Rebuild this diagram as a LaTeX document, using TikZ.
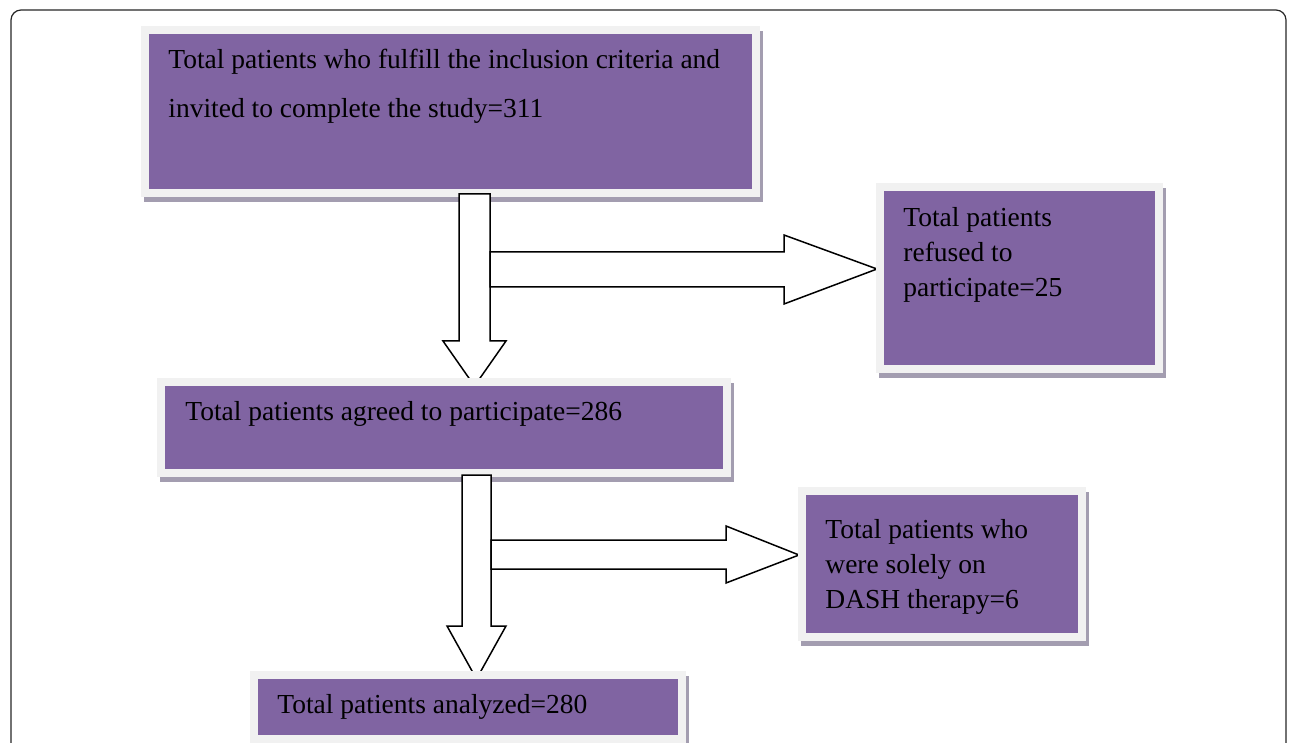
\documentclass[tikz,border=0pt]{standalone}
\usepackage{fontspec}
\setmainfont{Liberation Serif}
\usetikzlibrary{calc}
\pgfdeclarelayer{bg}
\pgfdeclarelayer{fg}
\pgfsetlayers{bg,main,fg}
\definecolor{boxpurple}{RGB}{128,100,162}
\definecolor{boxframe}{RGB}{241,241,241}
\definecolor{boxshadow}{RGB}{163,157,176}
\tikzset{
  box/.style={rectangle, fill=boxpurple, draw=boxframe, line width=4pt,
    preaction={fill=boxshadow, draw=boxshadow, line width=4pt,
      transform canvas={shift={(1.5pt,-2.5pt)}}}},
  boxtext/.style={anchor=north west, inner sep=0pt, align=left,
    font=\fontsize{13.75pt}{17.5pt}\selectfont},
  blockarrow/.style={draw=black, fill=white, line width=0.75pt, line join=miter}
}
\begin{document}
\begin{tikzpicture}[x=0.5pt, y=-0.5pt]
\useasboundingbox (0,0) rectangle (1296,743);
\draw[black!85, line width=0.6pt, rounded corners=5pt] (11,10) rectangle (1286,800);
% boxes of the middle row
\node[box, minimum width=283pt, minimum height=45.5pt] (agreed) at (444,427.5) {};
\node[boxtext] (agreed text) at ($(agreed.north west)+(28,23)$) {Total patients agreed to participate=286};
\node[box, minimum width=139.5pt, minimum height=91pt] (refused) at (1019.5,278) {};
\node[boxtext] (refused text) at ($(refused.north west)+(27,24)$) {Total patients\\refused to\\participate=25};
\begin{pgfonlayer}{fg}
\node[box, minimum width=214pt, minimum height=32pt] (analyzed) at (468,707) {};
\node[boxtext] (analyzed text) at ($(analyzed.north west)+(27,23)$) {Total patients analyzed=280};
\node[box, minimum width=140pt, minimum height=73pt] (dash) at (942,564) {};
\node[boxtext] (dash text) at ($(dash.north west)+(27,32)$) {Total patients who\\were solely on\\DASH therapy=6};
\end{pgfonlayer}
\begin{pgfonlayer}{bg}
\node[box, minimum width=305.5pt, minimum height=81.5pt] (total) at (450.5,111.5) {};
\node[boxtext, font=\fontsize{13.75pt}{24.5pt}\selectfont] (total text) at ($(total.north west)+(27,23)$)
  {Total patients who fulfill the inclusion criteria and\\invited to complete the study=311};
\draw[blockarrow] ($(agreed.north)+(30.5,8)$) coordinate (tip1) -- ++(-31.5,-45) -- ++(16,0) -- ++(0,-147)
  -- ++(31,0) -- ++(0,147) -- ++(16,0) -- cycle;
\draw[blockarrow] ($(refused.west)+(1,-9)$) coordinate (side1) -- ++(-93,-34) -- ++(0,17) -- ++(-294,0)
  -- ++(0,35) -- ++(294,0) -- ++(0,17) -- cycle;
\end{pgfonlayer}
\draw[blockarrow] ($(analyzed.north)+(8.5,8)$) coordinate (tip2) -- ++(-29.5,-53) -- ++(15,0) -- ++(0,-151)
  -- ++(29,0) -- ++(0,151) -- ++(15,0) -- cycle;
\draw[blockarrow] ($(dash.west)+(1,-9)$) coordinate (side2) -- ++(-73,-29) -- ++(0,14) -- ++(-235,0)
  -- ++(0,29) -- ++(235,0) -- ++(0,14) -- cycle;
\end{tikzpicture}
\end{document}
